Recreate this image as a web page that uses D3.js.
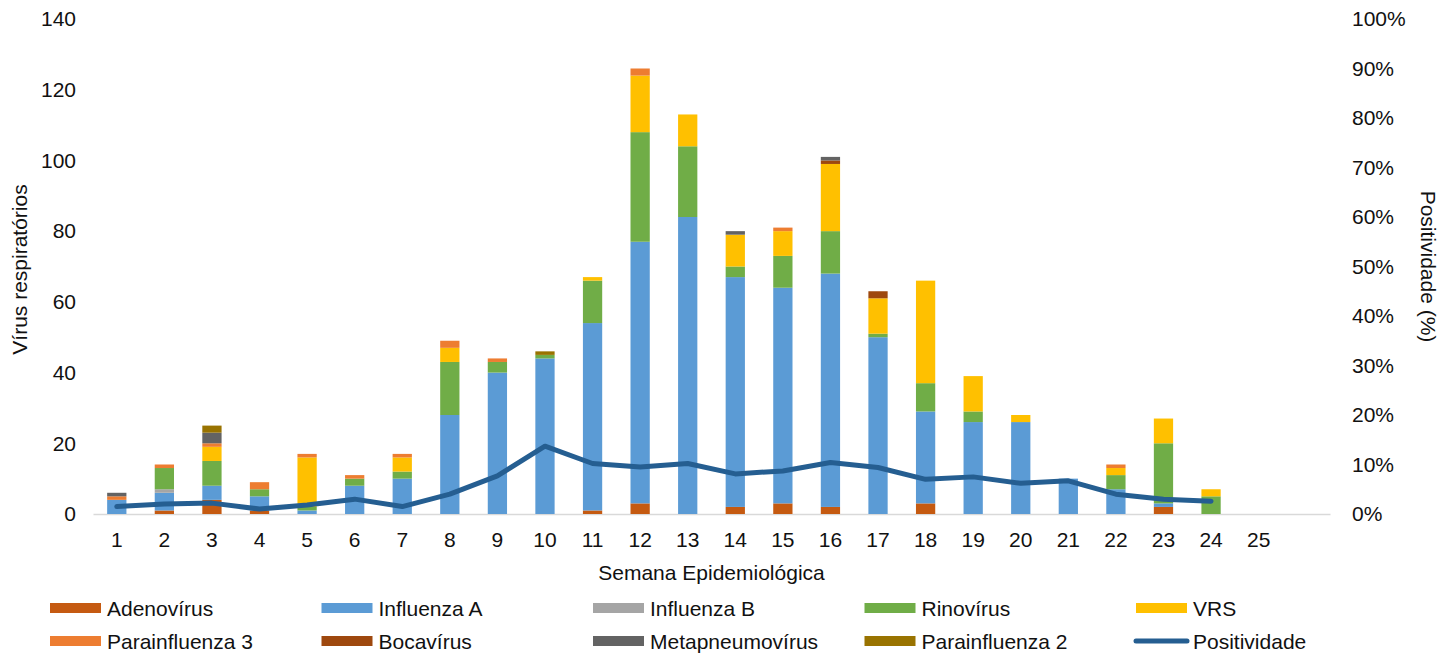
<!DOCTYPE html>
<html>
<head>
<meta charset="utf-8">
<style>
    body { margin: 0; background: #fff; }
    svg text {
        font-family: 'Liberation Sans', Arial, sans-serif;
        font-size: 21px;
        fill: #111;
    }
    .xaxis path.domain {
        stroke: #d9d9d9;
        stroke-width: 1.5px;
    }
    .line {
        fill: none;
        stroke: #255e91;
        stroke-width: 5px;
        stroke-linejoin: round;
        stroke-linecap: round;
    }
</style>
</head>
<body>
<svg id="chart" width="1449" height="654"></svg>
<script src="https://cdn.jsdelivr.net/npm/d3@7/dist/d3.min.js"></script>
<script>
    // semanas epidemiologicas (a 26a categoria fica em branco no eixo)
    var weeks = [1, 2, 3, 4, 5, 6, 7, 8, 9, 10, 11, 12, 13, 14, 15, 16, 17, 18, 19, 20, 21, 22, 23, 24, 25];
    var yTicks = [0, 20, 40, 60, 80, 100, 120, 140];
    var y2Ticks = [0, 10, 20, 30, 40, 50, 60, 70, 80, 90, 100];

    // numero de virus por semana
    var adenovirus      = [0, 1, 4, 1, 0, 0, 0, 0, 0, 0, 1, 3, 0, 2, 3, 2, 0, 3, 0, 0, 0, 0, 2, 0, 0];
    var influenzaA      = [4, 5, 4, 4, 1, 8, 10, 28, 40, 44, 53, 74, 84, 65, 61, 66, 50, 26, 26, 26, 10, 7, 1, 0, 0];
    var influenzaB      = [0, 1, 0, 0, 0, 0, 0, 0, 0, 0, 0, 0, 0, 0, 0, 0, 0, 0, 0, 0, 0, 0, 0, 0, 0];
    var rinovirus       = [0, 6, 7, 2, 1, 2, 2, 15, 3, 1, 12, 31, 20, 3, 9, 12, 1, 8, 3, 0, 0, 4, 17, 5, 0];
    var vrs             = [0, 0, 4, 0, 14, 0, 4, 4, 0, 0, 1, 16, 9, 9, 7, 19, 10, 29, 10, 2, 0, 2, 7, 2, 0];
    var parainfluenza3  = [1, 1, 1, 2, 1, 1, 1, 2, 1, 0, 0, 2, 0, 0, 1, 0, 0, 0, 0, 0, 0, 1, 0, 0, 0];
    var bocavirus       = [0, 0, 0, 0, 0, 0, 0, 0, 0, 0, 0, 0, 0, 0, 0, 1, 2, 0, 0, 0, 0, 0, 0, 0, 0];
    var metapneumovirus = [1, 0, 3, 0, 0, 0, 0, 0, 0, 0, 0, 0, 0, 1, 0, 1, 0, 0, 0, 0, 0, 0, 0, 0, 0];
    var parainfluenza2  = [0, 0, 2, 0, 0, 0, 0, 0, 0, 1, 0, 0, 0, 0, 0, 0, 0, 0, 0, 0, 0, 0, 0, 0, 0];

    // positividade (%)
    var positividade = [1.5, 2.0, 2.2, 1.0, 1.8, 3.0, 1.5, 4.0, 7.7, 13.7, 10.2, 9.5, 10.2, 8.1, 8.7, 10.4, 9.4, 7.0, 7.5, 6.2, 6.7, 4.0, 3.0, 2.6, null];

    var seriesNames = ['Adenovírus', 'Influenza A', 'Influenza B', 'Rinovírus', 'VRS',
                       'Parainfluenza 3', 'Bocavírus', 'Metapneumovírus', 'Parainfluenza 2'];
    var seriesValues = [adenovirus, influenzaA, influenzaB, rinovirus, vrs,
                        parainfluenza3, bocavirus, metapneumovirus, parainfluenza2];
    var seriesColors = ['#c55a11', '#5b9bd5', '#a5a5a5', '#70ad47', '#ffc000',
                        '#ed7d31', '#9e480e', '#636363', '#997300'];
    var lineName = 'Positividade';

    var g_left = 93, g_right = 1330, g_top = 19, g_bottom = 514;

    var chart = d3.select('#chart');

    // table for d3.stack
    var rows = weeks.map(function(w, i) {
        var r = {week: String(w)};
        seriesNames.forEach(function(n, k) { r[n] = seriesValues[k][i]; });
        return r;
    });

    var x = d3.scaleBand()
        .domain(weeks.map(String).concat(['']))
        .range([g_left, g_right])
        .paddingInner(0.595)
        .paddingOuter(0.2975);
    var y = d3.scaleLinear().domain([0, 140]).range([g_bottom, g_top]);
    var y2 = d3.scaleLinear().domain([0, 100]).range([g_bottom, g_top]);

    // -----------------------------------
    // axes
    var axisX = chart.append('g').attr('class', 'xaxis')
        .attr('transform', 'translate(0,' + g_bottom + ')')
        .call(d3.axisBottom(x).tickSize(0).tickPadding(18).tickSizeOuter(0));

    var axisY = chart.append('g').attr('class', 'yaxis')
        .attr('transform', 'translate(' + g_left + ',0)')
        .call(d3.axisLeft(y).tickValues(yTicks).tickSize(0).tickPadding(17));
    axisY.select('.domain').remove();

    var axisY2 = chart.append('g').attr('class', 'y2axis')
        .attr('transform', 'translate(' + g_right + ',0)')
        .call(d3.axisRight(y2).tickValues(y2Ticks).tickSize(0).tickPadding(22)
              .tickFormat(function(d) { return d + '%'; }));
    axisY2.select('.domain').remove();

    chart.selectAll('.tick text').style('font-size', '21px').style('fill', '#111')
        .style('font-family', "'Liberation Sans', Arial, sans-serif");

    chart.append('text')
        .attr('transform', 'translate(27,' + ((g_top + g_bottom) / 2 + 3) + ') rotate(-90)')
        .style('text-anchor', 'middle')
        .text('Vírus respiratórios');
    chart.append('text')
        .attr('transform', 'translate(1421,' + ((g_top + g_bottom) / 2) + ') rotate(90)')
        .style('text-anchor', 'middle')
        .text('Positividade (%)');
    chart.append('text')
        .attr('x', (g_left + g_right) / 2)
        .attr('y', 580)
        .style('text-anchor', 'middle')
        .text('Semana Epidemiológica');

    // -----------------------------------
    // stacked bars
    var stacked = d3.stack().keys(seriesNames)(rows);
    var layers = chart.append('g').selectAll('g')
        .data(stacked)
        .enter().append('g')
        .attr('fill', function(d, i) { return seriesColors[i]; });
    layers.selectAll('rect')
        .data(function(d) { return d; })
        .enter().append('rect')
        .attr('x', function(d) { return x(d.data.week); })
        .attr('width', x.bandwidth())
        .attr('y', function(d) { return y(d[1]); })
        .attr('height', function(d) { return y(d[0]) - y(d[1]); });

    // positividade line
    var line = d3.line()
        .defined(function(d) { return d != null; })
        .x(function(d, i) { return x(String(weeks[i])) + x.bandwidth() / 2; })
        .y(function(d) { return y2(d); });
    chart.append('path').datum(positividade)
        .attr('class', 'line')
        .attr('d', line);

    // -----------------------------------
    // legend
    var legendItems = seriesNames.concat([lineName]);
    var legend = chart.append('g');
    legendItems.forEach(function(name, i) {
        var lx = 50 + (i % 5) * 271.5;
        var ly = 608 + Math.floor(i / 5) * 33;
        if (i < seriesNames.length) {
            legend.append('rect')
                .attr('x', lx).attr('y', ly - 5)
                .attr('width', 51).attr('height', 10)
                .attr('fill', seriesColors[i]);
        } else {
            legend.append('line')
                .attr('x1', lx).attr('x2', lx + 51)
                .attr('y1', ly).attr('y2', ly)
                .attr('stroke', '#255e91')
                .attr('stroke-width', 5)
                .attr('stroke-linecap', 'round');
        }
        legend.append('text')
            .attr('x', lx + 57).attr('y', ly + 8)
            .text(name);
    });
</script>
</body>
</html>
